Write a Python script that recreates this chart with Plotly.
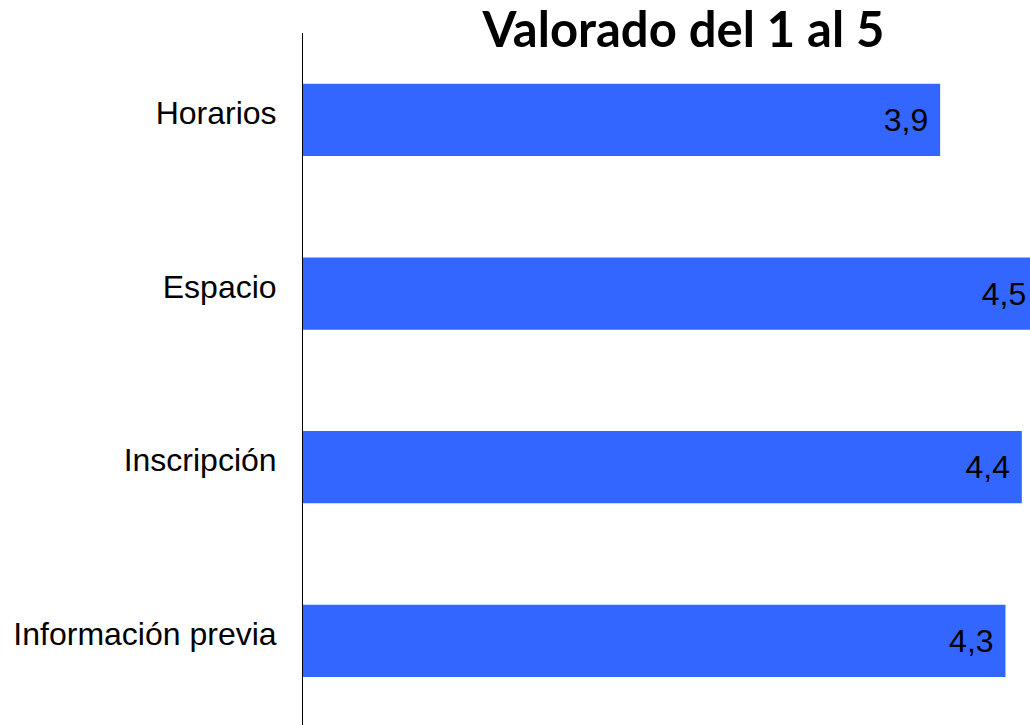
import plotly.graph_objects as go

categorias = ["Horarios", "Espacio", "Inscripción", "Información previa"]
valores = [3.9, 4.5, 4.4, 4.3]
etiquetas = ["3,9", "4,5", "4,4", "4,3"]

fig = go.Figure(
    go.Bar(
        x=valores,
        y=categorias,
        orientation="h",
        marker=dict(color="#3366FF", line=dict(width=0)),
        text=[t + "\u00a0" for t in etiquetas],
        textposition="inside",
        insidetextanchor="end",
        textfont=dict(family="Liberation Sans, Arial", size=32, color="black"),
        cliponaxis=True,
        hoverinfo="skip",
    )
)

fig.update_layout(
    width=1030,
    height=725,
    margin=dict(l=303, r=0, t=33, b=0),
    paper_bgcolor="white",
    plot_bgcolor="white",
    bargap=0.584,
    showlegend=False,
    title=dict(
        text="<b>Valorado del 1 al 5</b>",
        font=dict(family="Lato, Carlito, Calibri", size=49, color="black"),
        x=0.6636,
        xref="container",
        xanchor="center",
        y=0.982,
        yref="container",
        yanchor="top",
    ),
)

fig.update_xaxes(
    range=[0, 4.45],
    visible=False,
    showgrid=False,
    zeroline=False,
)
# last category runs slightly past the bottom edge, as in the reference
fig.update_yaxes(
    range=[3.484, -0.5],
    showline=True,
    linecolor="black",
    linewidth=1,
    showgrid=False,
    ticks="",
    ticklabelstandoff=19,
    ticklabelshift=7,
    tickfont=dict(family="Liberation Sans, Arial", size=32, color="black"),
)

# drop the default body margin so the figure fills the window exactly
fig.write_html(
    "out.html",
    config={"displayModeBar": False},
    post_script="document.body.style.margin='0';",
)
